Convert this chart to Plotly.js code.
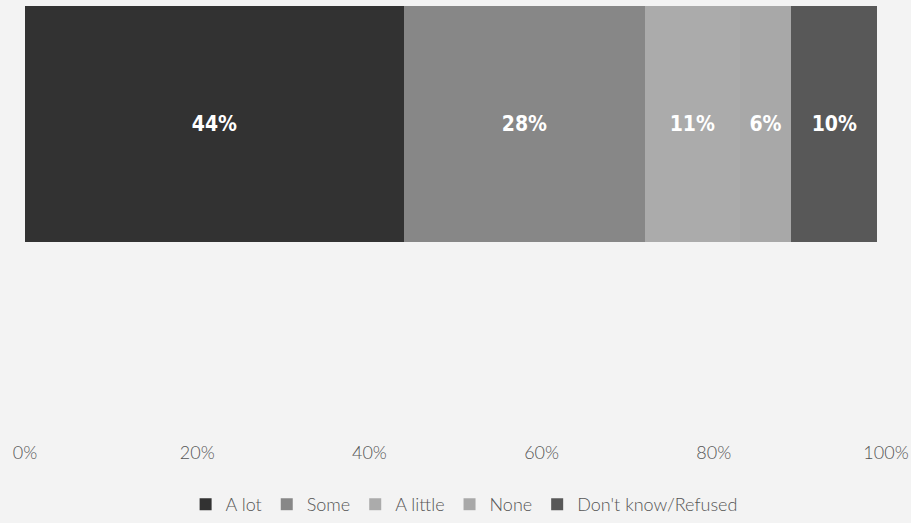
<!DOCTYPE html>
<html>
<head>
<meta charset="utf-8">
<script src="https://cdn.plot.ly/plotly-3.0.1.min.js"></script>
<style>html,body{margin:0;padding:0;background:#f3f3f3;}#chart{width:911px;height:523px;}</style>
</head>
<body>
<div id="chart"></div>
<script>
const categories = ["A lot", "Some", "A little", "None", "Don't know/Refused"];
const values = [44, 28, 11, 6, 10];
const labels = ["44%", "28%", "11%", "6%", "10%"];
const colors = ["#323232", "#878787", "#ababab", "#a8a8a8", "#585858"];

const traces = categories.map((c, i) => ({
  type: "bar",
  orientation: "h",
  name: c,
  x: [values[i]],
  y: [0],
  width: 1,
  marker: { color: colors[i], line: { width: 0 } },
  text: [labels[i]],
  textposition: "inside",
  insidetextanchor: "middle",
  textangle: 0,
  textfont: { family: "DejaVu Sans Condensed, Liberation Sans Narrow, sans-serif", size: 21, color: "#ffffff", weight: 700 },
  hoverinfo: "skip"
}));

const layout = {
  width: 911, height: 523,
  paper_bgcolor: "#f3f3f3",
  plot_bgcolor: "#f3f3f3",
  barmode: "stack",
  margin: { l: 25, r: 25, t: 0, b: 75 },
  showlegend: true,
  legend: {
    orientation: "h", x: 0.51, xanchor: "center", y: -0.105, yanchor: "top",
    font: { family: "Lato, sans-serif", size: 18, color: "#555555", weight: 300 },
    itemwidth: 30, traceorder: "normal", bgcolor: "rgba(0,0,0,0)"
  },
  xaxis: {
    range: [0, 100], tickvals: [0, 20, 40, 60, 80, 100],
    ticktext: ["0%", "20%", "40%", "60%", "80%", "100%"],
    showgrid: false, zeroline: false, showline: false, ticks: "",
    tickfont: { family: "Lato, sans-serif", size: 18, color: "#555555", weight: 300 },
    fixedrange: true
  },
  yaxis: {
    range: [-1.34, 0.525], visible: false, showgrid: false, zeroline: false, fixedrange: true
  }
};

Plotly.newPlot("chart", traces, layout, { displayModeBar: false, staticPlot: true });
</script>
</body>
</html>
